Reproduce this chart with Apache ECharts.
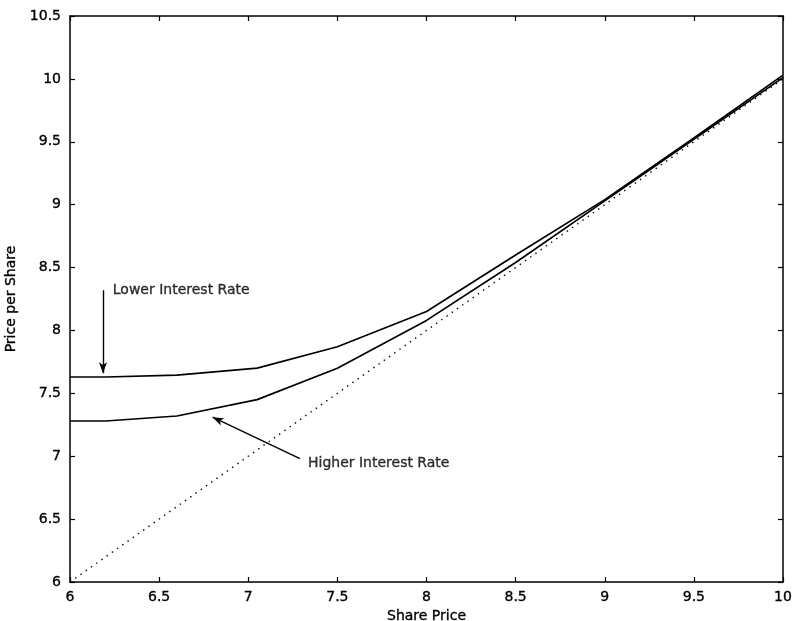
<!DOCTYPE html>
<html>
<head>
<meta charset="utf-8">
<script src="https://cdn.jsdelivr.net/npm/echarts@6/dist/echarts.min.js"></script>
<style>
  html, body { margin: 0; padding: 0; background: #fff; }
  #chart { width: 793px; height: 621px; }
</style>
</head>
<body>
<div id="chart"></div>
<script>
// Share price grid and the two option-value curves
const sharePrice = [6, 6.2, 6.6, 7.05, 7.5, 8, 8.5, 9, 9.5, 10];
const lowerRate  = [7.63, 7.63, 7.645, 7.70, 7.87, 8.15, 8.60, 9.04, 9.53, 10.03];
const higherRate = [7.28, 7.28, 7.32, 7.45, 7.70, 8.08, 8.54, 9.03, 9.52, 10.01];
// 45-degree reference line
const diagX = [6, 10];
const diagY = [6, 10];

// Annotation anchors (data coordinates)
const lowerArrow  = { from: [6.185, 8.32], to: [6.185, 7.66] };
const higherArrow = { from: [7.29, 6.98], to: [6.80, 7.31] };
const lowerLabel  = { at: [6.24, 8.32], text: 'Lower Interest Rate' };
const higherLabel = { at: [7.335, 6.94], text: 'Higher Interest Rate' };

const zip = (xs, ys) => xs.map((x, i) => [x, ys[i]]);
const fmt = v => String(v);

const font = '"DejaVu Sans", Verdana, sans-serif';
const ink = '#000';
const textSize = 14;
// slight outline gives the text a heavier print look
const heavy = { textBorderColor: ink, textBorderWidth: 0.35 };

const chart = echarts.init(document.getElementById('chart'), null, { renderer: 'canvas' });

const axisCommon = {
  type: 'value',
  interval: 0.5,
  axisLine: { show: true, onZero: false, lineStyle: { color: ink, width: 1.5 } },
  axisTick: { show: true, inside: true, length: 5, lineStyle: { color: ink, width: 1.2 } },
  splitLine: { show: false },
  axisLabel: Object.assign({ color: ink, fontFamily: font, fontSize: textSize, formatter: fmt }, heavy)
};

function arrowLine(a) {
  return [{ coord: a.from }, { coord: a.to }];
}

chart.setOption({
  animation: false,
  backgroundColor: '#fff',
  grid: { left: 70, right: 10, top: 16, bottom: 39, outerBoundsMode: 'none', containLabel: false },
  xAxis: [
    Object.assign({}, axisCommon, {
      min: 6, max: 10, position: 'bottom',
      name: 'Share Price', nameLocation: 'middle', nameGap: 19,
      nameTextStyle: Object.assign({ color: ink, fontFamily: font, fontSize: textSize }, heavy),
      axisLabel: Object.assign({}, axisCommon.axisLabel, { margin: 8 })
    }),
    Object.assign({}, axisCommon, {
      min: 6, max: 10, position: 'top',
      axisLabel: { show: false }
    })
  ],
  yAxis: [
    Object.assign({}, axisCommon, {
      min: 6, max: 10.5, position: 'left',
      name: 'Price per Share', nameLocation: 'middle', nameGap: 45,
      nameTextStyle: Object.assign({ color: ink, fontFamily: font, fontSize: textSize }, heavy),
      axisLabel: Object.assign({}, axisCommon.axisLabel, { margin: 9 })
    }),
    Object.assign({}, axisCommon, {
      min: 6, max: 10.5, position: 'right',
      axisLabel: { show: false }
    })
  ],
  series: [
    {
      name: 'Lower Interest Rate',
      type: 'line',
      data: zip(sharePrice, lowerRate),
      showSymbol: false,
      lineStyle: { color: ink, width: 1.7 },
      z: 3,
      markLine: {
        silent: true,
        symbol: ['none', 'arrow'],
        symbolSize: [6, 11],
        label: { show: false },
        lineStyle: { color: ink, width: 1.4, type: 'solid' },
        data: [arrowLine(lowerArrow), arrowLine(higherArrow)]
      }
    },
    {
      name: 'Higher Interest Rate',
      type: 'line',
      data: zip(sharePrice, higherRate),
      showSymbol: false,
      lineStyle: { color: ink, width: 1.7 },
      z: 3
    },
    {
      name: 'Share Price',
      type: 'line',
      data: zip(diagX, diagY),
      showSymbol: false,
      lineStyle: { color: ink, width: 1.4, type: [1.4, 5] },
      z: 2
    },
    {
      name: 'labels',
      type: 'scatter',
      symbolSize: 0,
      silent: true,
      data: [lowerLabel, higherLabel].map(l => ({
        value: l.at,
        label: Object.assign({
          show: true,
          formatter: l.text,
          position: 'right',
          distance: 0,
          color: ink,
          fontFamily: font,
          fontSize: textSize
        }, heavy)
      }))
    }
  ]
});
</script>
</body>
</html>
